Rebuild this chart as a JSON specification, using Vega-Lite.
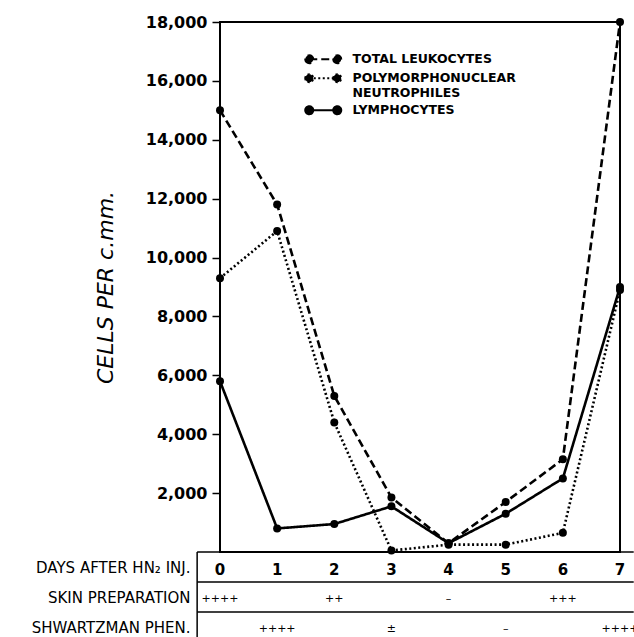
{
  "$schema": "https://vega.github.io/schema/vega-lite/v6.json",
  "background": "white",
  "padding": {"left": 31, "top": 13, "right": 0, "bottom": 0},
  "spacing": 0,
  "bounds": "flush",
  "config": {"view": {"stroke": null}, "font": "DejaVu Sans"},
  "resolve": {"scale": {"x": "independent", "y": "independent"}},
  "vconcat": [
    {
      "width": 400,
      "height": 530,
      "view": {"stroke": "black", "strokeWidth": 2},
      "data": {
        "values": [
          {"day": 0, "series": "TOTAL LEUKOCYTES", "cells": 15000},
          {"day": 1, "series": "TOTAL LEUKOCYTES", "cells": 11800},
          {"day": 2, "series": "TOTAL LEUKOCYTES", "cells": 5300},
          {"day": 3, "series": "TOTAL LEUKOCYTES", "cells": 1850},
          {"day": 4, "series": "TOTAL LEUKOCYTES", "cells": 300},
          {"day": 5, "series": "TOTAL LEUKOCYTES", "cells": 1700},
          {"day": 6, "series": "TOTAL LEUKOCYTES", "cells": 3150},
          {"day": 7, "series": "TOTAL LEUKOCYTES", "cells": 18000},
          {"day": 0, "series": "POLYMORPHONUCLEAR NEUTROPHILES", "cells": 9300},
          {"day": 1, "series": "POLYMORPHONUCLEAR NEUTROPHILES", "cells": 10900},
          {"day": 2, "series": "POLYMORPHONUCLEAR NEUTROPHILES", "cells": 4400},
          {"day": 3, "series": "POLYMORPHONUCLEAR NEUTROPHILES", "cells": 50},
          {"day": 4, "series": "POLYMORPHONUCLEAR NEUTROPHILES", "cells": 250},
          {"day": 5, "series": "POLYMORPHONUCLEAR NEUTROPHILES", "cells": 250},
          {"day": 6, "series": "POLYMORPHONUCLEAR NEUTROPHILES", "cells": 650},
          {"day": 7, "series": "POLYMORPHONUCLEAR NEUTROPHILES", "cells": 8900},
          {"day": 0, "series": "LYMPHOCYTES", "cells": 5800},
          {"day": 1, "series": "LYMPHOCYTES", "cells": 800},
          {"day": 2, "series": "LYMPHOCYTES", "cells": 950},
          {"day": 3, "series": "LYMPHOCYTES", "cells": 1550},
          {"day": 4, "series": "LYMPHOCYTES", "cells": 300},
          {"day": 5, "series": "LYMPHOCYTES", "cells": 1300},
          {"day": 6, "series": "LYMPHOCYTES", "cells": 2500},
          {"day": 7, "series": "LYMPHOCYTES", "cells": 9000}
        ]
      },
      "encoding": {
        "x": {
          "field": "day", "type": "quantitative",
          "scale": {"domain": [0, 7], "nice": false, "zero": false},
          "axis": null
        },
        "y": {
          "field": "cells", "type": "quantitative",
          "scale": {"domain": [0, 18000], "nice": false},
          "axis": {
            "title": "CELLS PER c.mm.",
            "values": [2000, 4000, 6000, 8000, 10000, 12000, 14000, 16000, 18000],
            "format": ",d",
            "grid": false, "domain": false,
            "labelFont": "DejaVu Sans", "labelFontWeight": "bold", "labelFontSize": 16, "labelColor": "black", "labelPadding": 5,
            "tickColor": "black", "tickSize": 8, "tickWidth": 1.5,
            "titleFont": "DejaVu Sans", "titleFontStyle": "italic", "titleFontWeight": "normal", "titleFontSize": 22, "titleColor": "black", "titlePadding": 28
          }
        }
      },
      "layer": [
        {
          "mark": {"type": "line", "color": "black", "strokeWidth": 2.6, "strokeCap": "butt"},
          "encoding": {
            "strokeDash": {
              "field": "series", "type": "nominal",
              "scale": {"domain": ["TOTAL LEUKOCYTES", "POLYMORPHONUCLEAR NEUTROPHILES", "LYMPHOCYTES"], "range": [[8, 4], [2, 2.5], [1, 0]]},
              "legend": {
                "title": null,
                "orient": "none",
                "legendX": 97,
                "legendY": 31,
                "padding": 0,
                "symbolType": "M -4.5 0 A 1 1 0 1 0 -2.5 0 A 1 1 0 1 0 -4.5 0 Z M 2.5 0 A 1 1 0 1 0 4.5 0 A 1 1 0 1 0 2.5 0 Z M -3.5 0 L 3.5 0",
                "symbolSize": 64,
                "symbolStrokeWidth": 2,
                "symbolFillColor": "black",
                "symbolStrokeColor": "black",
                "labelFont": "DejaVu Sans", "labelFontWeight": "bold", "labelFontSize": 12.5, "labelColor": "black",
                "labelLimit": 400,
                "labelOffset": 23,
                "rowPadding": 2,
                "labelExpr": "datum.label == 'POLYMORPHONUCLEAR NEUTROPHILES' ? ['POLYMORPHONUCLEAR', '\u00a0\u00a0\u00a0\u00a0\u00a0\u00a0\u00a0\u00a0\u00a0\u00a0NEUTROPHILES'] : datum.label"
              }
            }
          }
        },
        {
          "mark": {"type": "point", "filled": true, "color": "black", "size": 64, "opacity": 1}
        }
      ]
    },
    {
      "width": 400,
      "height": 90,
      "layer": [
        {
          "data": {
            "values": [
              {"row": "DAYS AFTER HN₂ INJ."},
              {"row": "SKIN PREPARATION"},
              {"row": "SHWARTZMAN PHEN."}
            ]
          },
          "mark": {"type": "rule", "color": "black", "strokeWidth": 1.5},
          "encoding": {
            "y": {
              "field": "row", "type": "nominal", "bandPosition": 0,
              "scale": {"type": "band", "domain": ["DAYS AFTER HN₂ INJ.", "SKIN PREPARATION", "SHWARTZMAN PHEN."], "paddingInner": 0, "paddingOuter": 0},
              "axis": {"title": null, "domain": false, "ticks": false, "labelPadding": 30, "labelFont": "DejaVu Sans", "labelFontSize": 15, "labelColor": "black", "labelFontWeight": "normal", "labelOffset": 1}
            },
            "x": {"datum": -0.4, "type": "quantitative", "scale": {"domain": [0, 7], "nice": false, "zero": false}, "axis": null},
            "x2": {"datum": 7.24}
          }
        },
        {
          "data": {"values": [{"edge": "left"}]},
          "mark": {"type": "rule", "color": "black", "strokeWidth": 1.5},
          "encoding": {
            "x": {"datum": -0.4}
          }
        },
        {
          "data": {
            "values": [
              {"row": "DAYS AFTER HN₂ INJ.", "day": 0, "text": "0"},
              {"row": "DAYS AFTER HN₂ INJ.", "day": 1, "text": "1"},
              {"row": "DAYS AFTER HN₂ INJ.", "day": 2, "text": "2"},
              {"row": "DAYS AFTER HN₂ INJ.", "day": 3, "text": "3"},
              {"row": "DAYS AFTER HN₂ INJ.", "day": 4, "text": "4"},
              {"row": "DAYS AFTER HN₂ INJ.", "day": 5, "text": "5"},
              {"row": "DAYS AFTER HN₂ INJ.", "day": 6, "text": "6"},
              {"row": "DAYS AFTER HN₂ INJ.", "day": 7, "text": "7"}
            ]
          },
          "mark": {"type": "text", "font": "DejaVu Sans", "fontSize": 15, "fontWeight": "bold", "color": "black", "dy": 3},
          "encoding": {
            "x": {"field": "day", "type": "quantitative"},
            "y": {"field": "row", "type": "nominal"},
            "text": {"field": "text"}
          }
        },
        {
          "data": {
            "values": [
              {"row": "SKIN PREPARATION", "day": 0, "text": "++++"},
              {"row": "SKIN PREPARATION", "day": 2, "text": "++"},
              {"row": "SKIN PREPARATION", "day": 4, "text": "–"},
              {"row": "SKIN PREPARATION", "day": 6, "text": "+++"},
              {"row": "SHWARTZMAN PHEN.", "day": 1, "text": "++++"},
              {"row": "SHWARTZMAN PHEN.", "day": 3, "text": "±"},
              {"row": "SHWARTZMAN PHEN.", "day": 5, "text": "–"},
              {"row": "SHWARTZMAN PHEN.", "day": 7, "text": "++++"}
            ]
          },
          "mark": {"type": "text", "font": "DejaVu Sans", "fontSize": 11, "fontWeight": "normal", "color": "black", "dy": 2},
          "encoding": {
            "x": {"field": "day", "type": "quantitative"},
            "y": {"field": "row", "type": "nominal"},
            "text": {"field": "text"}
          }
        }
      ]
    }
  ]
}
